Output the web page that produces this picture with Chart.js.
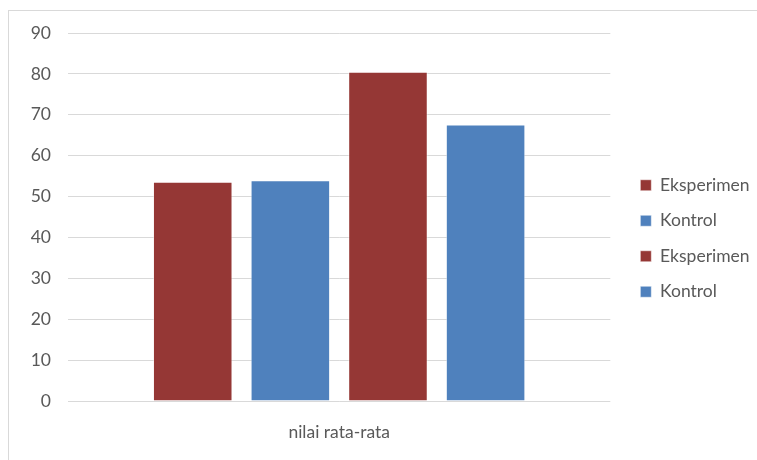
<!DOCTYPE html>
<html>
<head>
<meta charset="utf-8">
<script src="https://cdn.jsdelivr.net/npm/chart.js@4.4.1/dist/chart.umd.min.js"></script>
<style>
    html, body { margin: 0; padding: 0; background: #fff; overflow: hidden; }
    #frame {
        position: absolute; left: 8px; top: 10px; width: 800px; height: 500px;
        border-left: 1px solid #d9d9d9; border-top: 1px solid #d9d9d9;
    }
    #wrap { position: absolute; left: 0; top: 0; width: 757px; height: 460px; }
</style>
</head>
<body>
<div id="frame"></div>
<div id="wrap"><canvas id="mainChart"></canvas></div>
<script>
// Data
const categories = ['nilai rata-rata'];
const seriesNames = ['Eksperimen', 'Kontrol', 'Eksperimen', 'Kontrol'];
const seriesValues = [[53.6], [54.0], [80.5], [67.6]];
const seriesColors = ['#953735', '#4f81bd', '#953735', '#4f81bd'];
const yTicks = [0, 10, 20, 30, 40, 50, 60, 70, 80, 90];

const textColor = '#595959';
const gridColor = '#d9d9d9';
const fontFamily = 'Lato, "Open Sans", sans-serif';

let mainChart = null;

// legend box is clipped to its measured width, give the last glyph some room
const legendSlack = {
    id: 'legendSlack',
    beforeLayout(chart) {
        const lg = chart.legend;
        if (lg && !lg._slack) {
            const fit = lg.fit.bind(lg);
            lg.fit = function () { fit(); this.width += 6; };
            lg._slack = true;
        }
    }
};

window.onload = () => {
    document.fonts.load('17.5px Lato').then(initChart, initChart);
};

function initChart() {
    const ctx = document.getElementById('mainChart');
    mainChart = new Chart(ctx, {
        type: 'bar',
        data: {
            labels: categories,
            datasets: seriesNames.map((name, i) => ({
                label: name,
                data: seriesValues[i],
                backgroundColor: seriesColors[i],
                borderColor: 'rgba(255,255,255,0.5)',
                borderWidth: 1,
                categoryPercentage: 0.72,
                barPercentage: 0.815
            }))
        },
        plugins: [legendSlack],
        options: {
            responsive: true,
            maintainAspectRatio: false,
            animation: false,
            layout: { padding: { left: 0, right: 3, top: 33, bottom: 16 } },
            plugins: {
                legend: {
                    position: 'right',
                    labels: {
                        boxWidth: 11,
                        boxHeight: 11,
                        padding: 18,
                        color: textColor,
                        font: { family: fontFamily, size: 17.5 }
                    }
                },
                tooltip: { enabled: false }
            },
            scales: {
                x: {
                    grid: { display: false, drawTicks: false },
                    border: { display: false },
                    ticks: {
                        color: textColor,
                        padding: 21,
                        font: { family: fontFamily, size: 17.5 }
                    },
                    afterFit: (scale) => { scale.height = 43; }
                },
                y: {
                    min: yTicks[0],
                    max: yTicks[yTicks.length - 1],
                    afterBuildTicks: (scale) => { scale.ticks = yTicks.map(v => ({ value: v })); },
                    grid: { color: gridColor, lineWidth: 1, drawTicks: false },
                    border: { display: false },
                    ticks: {
                        color: textColor,
                        padding: 17,
                        font: { family: fontFamily, size: 17.5 }
                    },
                    afterFit: (scale) => { scale.width = 68; }
                },
                gap: {
                    position: 'right',
                    display: true,
                    grid: { display: false, drawTicks: false },
                    border: { display: false },
                    ticks: { display: false },
                    afterFit: (scale) => { scale.width = 12; }
                }
            }
        }
    });
}
</script>
</body>
</html>
